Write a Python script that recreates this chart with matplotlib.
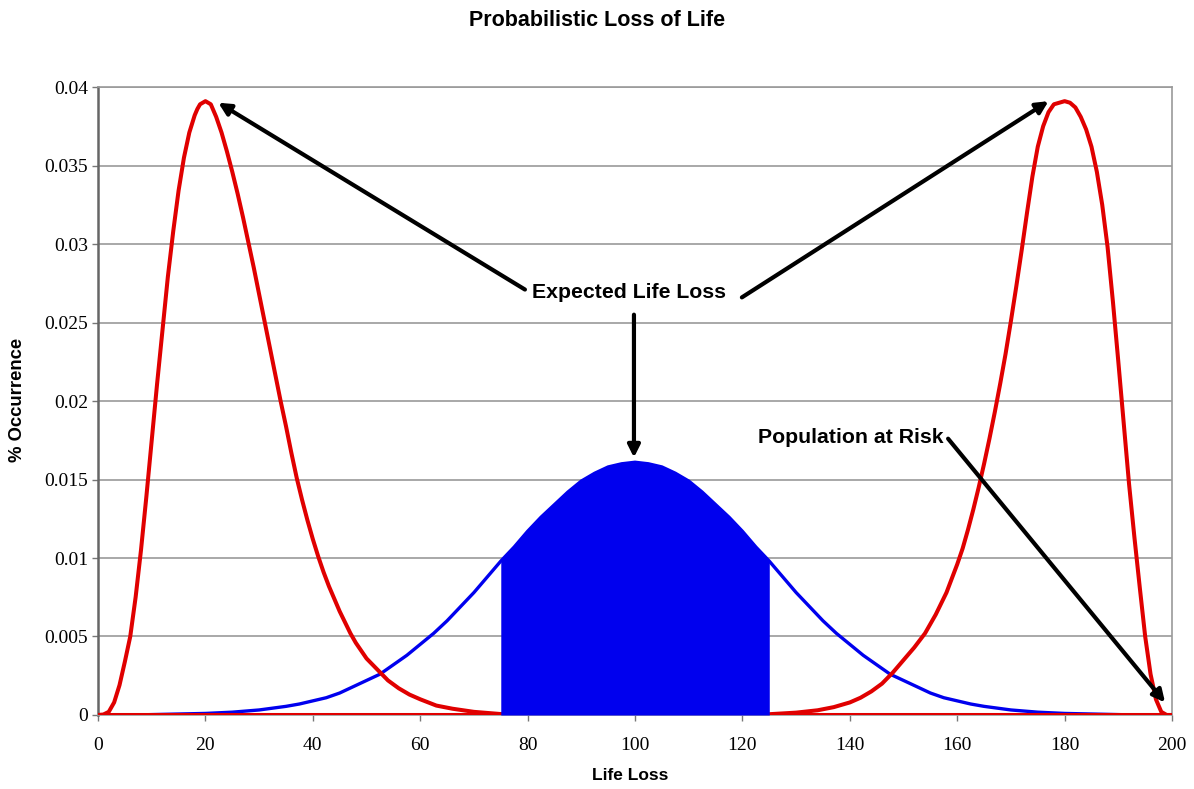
import matplotlib.pyplot as plt

# --- Values ---
# left red curve (Population at Risk, low side)
x_red_left = [0, 1, 2, 3, 4, 5, 6, 7, 8, 9, 10, 11, 12, 13, 14, 15, 16, 17, 18, 18.5,
              19, 19.5, 20, 20.5, 21, 21.5, 22, 23, 24, 25, 26, 27, 28, 29, 30, 31, 32,
              33, 34, 35, 36, 37, 38, 39, 40, 41, 42, 43, 44, 45, 46, 47, 48, 50, 52,
              54, 56, 58, 60, 63, 66, 70, 75, 80, 90, 200]
y_red_left = [0, 0.00003, 0.0002, 0.0008, 0.0019, 0.0034, 0.0050, 0.0075, 0.0105, 0.0139,
              0.0175, 0.0211, 0.0245, 0.0279, 0.0308, 0.0334, 0.0355, 0.0371, 0.0382, 0.0386,
              0.0389, 0.0390, 0.0391, 0.0390, 0.0389, 0.0385, 0.0381, 0.0371, 0.0359, 0.0346,
              0.0332, 0.0317, 0.0301, 0.0285, 0.0268, 0.0251, 0.0234, 0.0217, 0.0200, 0.0184,
              0.0167, 0.0151, 0.0137, 0.0124, 0.0112, 0.0101, 0.0091, 0.0082, 0.0074, 0.0066,
              0.0059, 0.0052, 0.0046, 0.0036, 0.0029, 0.0022, 0.0017, 0.0013, 0.0010, 0.0006,
              0.0004, 0.0002, 0.00006, 0.00001, 0, 0]

# right red curve (high side)
x_red_right = [0, 110, 120, 125, 130, 134, 137, 140, 142, 144, 146, 148, 150, 152, 154,
               156, 158, 159, 160, 161, 162, 163, 164, 165, 166, 167, 168, 169, 170, 171,
               172, 173, 174, 175, 176, 177, 178, 179, 180, 181, 182, 183, 184, 185, 186,
               187, 188, 189, 190, 191, 192, 193, 194, 195, 196, 197, 198, 199, 200]
y_red_right = [0, 0, 0.00001, 0.00005, 0.00015, 0.0003, 0.0005, 0.0008, 0.0011, 0.0015,
               0.0020, 0.0027, 0.0035, 0.0043, 0.0052, 0.0064, 0.0078, 0.0087, 0.0096, 0.0106,
               0.0118, 0.0131, 0.0145, 0.0160, 0.0176, 0.0193, 0.0211, 0.0230, 0.0251, 0.0273,
               0.0296, 0.0320, 0.0343, 0.0362, 0.0375, 0.0384, 0.0389, 0.0390, 0.0391, 0.0390,
               0.0387, 0.0381, 0.0373, 0.0362, 0.0346, 0.0325, 0.0298, 0.0263, 0.0225, 0.0186,
               0.0147, 0.0113, 0.0081, 0.0050, 0.0026, 0.0010, 0.0002, 0, 0]

# blue curve (Expected Life Loss)
x_blue = [8, 20, 25, 30, 35, 37.5, 40, 42.5, 45, 47.5, 50, 52.5, 55, 57.5, 60, 62.5, 65,
          67.5, 70, 72.5, 75, 77.5, 80, 82.5, 85, 87.5, 90, 92.5, 95, 97.5, 100, 102.5,
          105, 107.5, 110, 112.5, 115, 117.5, 120, 122.5, 125, 127.5, 130, 132.5, 135,
          137.5, 140, 142.5, 145, 147.5, 150, 152.5, 155, 157.5, 160, 162.5, 165, 170,
          175, 180, 192]
y_blue = [0.00001, 0.0001, 0.00018, 0.00032, 0.00055, 0.0007, 0.0009, 0.0011, 0.0014,
          0.0018, 0.0022, 0.0026, 0.0032, 0.0038, 0.0045, 0.0052, 0.0060, 0.0069, 0.0078,
          0.0088, 0.0098, 0.0107, 0.0117, 0.0126, 0.0134, 0.0142, 0.0149, 0.0154, 0.0158,
          0.0160, 0.0161, 0.0160, 0.0158, 0.0154, 0.0149, 0.0142, 0.0134, 0.0126, 0.0117,
          0.0107, 0.0098, 0.0088, 0.0078, 0.0069, 0.0060, 0.0052, 0.0045, 0.0038, 0.0032,
          0.0026, 0.0022, 0.0018, 0.0014, 0.0011, 0.0009, 0.0007, 0.00055, 0.00032,
          0.00018, 0.0001, 0.00001]

fill_lo, fill_hi = 75, 125

x_ticks = [0, 20, 40, 60, 80, 100, 120, 140, 160, 180, 200]
y_ticks = [0, 0.005, 0.01, 0.015, 0.02, 0.025, 0.03, 0.035, 0.04]
y_tick_labels = ['0', '0.005', '0.01', '0.015', '0.02', '0.025', '0.03', '0.035', '0.04']

# --- Plot ---
fig = plt.figure(figsize=(11.94, 7.89), dpi=100)
ax = fig.add_axes([0.0821, 0.0938, 0.8995, 0.7959])

sans = 'Liberation Sans'
serif = 'Liberation Serif'
grid_col = '#9a9a9a'
red = '#e00000'
blue = '#0000ee'

ax.plot(x_blue, y_blue, color=blue, lw=2.4, zorder=3, solid_joinstyle='round')
ax.fill_between(x_blue, y_blue, 0,
                where=[fill_lo <= v <= fill_hi for v in x_blue],
                color=blue, lw=0, zorder=5)
ax.plot(x_red_left, y_red_left, color=red, lw=2.9, zorder=4, solid_joinstyle='round')
ax.plot(x_red_right, y_red_right, color=red, lw=2.9, zorder=4, solid_joinstyle='round')

ax.set_xlim(0, 200)
ax.set_ylim(0, 0.04)
ax.set_xticks(x_ticks)
ax.set_xticklabels([str(t) for t in x_ticks], family=serif, fontsize=14)
ax.set_yticks(y_ticks)
ax.set_yticklabels(y_tick_labels, family=serif, fontsize=14)
ax.tick_params(axis='x', direction='out', length=4, width=1, color='#777777', pad=12)
ax.tick_params(axis='y', direction='out', length=4, width=1, color='#777777', pad=3)

ax.grid(axis='y', color=grid_col, lw=1.2, zorder=0)
ax.set_axisbelow(True)
for side in ['top', 'right', 'bottom']:
    ax.spines[side].set_color(grid_col)
    ax.spines[side].set_linewidth(1.2)
ax.spines['left'].set_color('#666666')
ax.spines['left'].set_linewidth(1.8)

# --- Annotations ---
arrow = dict(arrowstyle='-|>', color='black', lw=3, mutation_scale=18, shrinkA=0, shrinkB=0)
ax.text(98.9, 0.0269, 'Expected Life Loss', ha='center', va='center',
        family=sans, fontweight='bold', fontsize=15.3, zorder=6)
ax.annotate('', xy=(22.4, 0.0390), xytext=(79.5, 0.0271), arrowprops=arrow, zorder=6)
ax.annotate('', xy=(177.0, 0.0391), xytext=(119.9, 0.0266), arrowprops=arrow, zorder=6)
ax.annotate('', xy=(99.8, 0.0164), xytext=(99.8, 0.0255), arrowprops=arrow, zorder=6)

ax.text(157.4, 0.0177, 'Population at Risk', ha='right', va='center',
        family=sans, fontweight='bold', fontsize=15.3, zorder=6)
ax.annotate('', xy=(198.7, 0.0008), xytext=(158.3, 0.0176), arrowprops=arrow, zorder=6)

fig.text(0.5, 1 - 21 / 789, 'Probabilistic Loss of Life', ha='center', va='center',
         family=sans, fontweight='bold', fontsize=15.5)
fig.text(18 / 1194, 1 - 400 / 789, '% Occurrence', rotation=90, ha='center', va='center',
         family=sans, fontweight='bold', fontsize=13.3)
fig.text(630 / 1194, 1 - 775 / 789, 'Life Loss', ha='center', va='center',
         family=sans, fontweight='bold', fontsize=12.5)

fig.savefig('out.png', dpi=100)
